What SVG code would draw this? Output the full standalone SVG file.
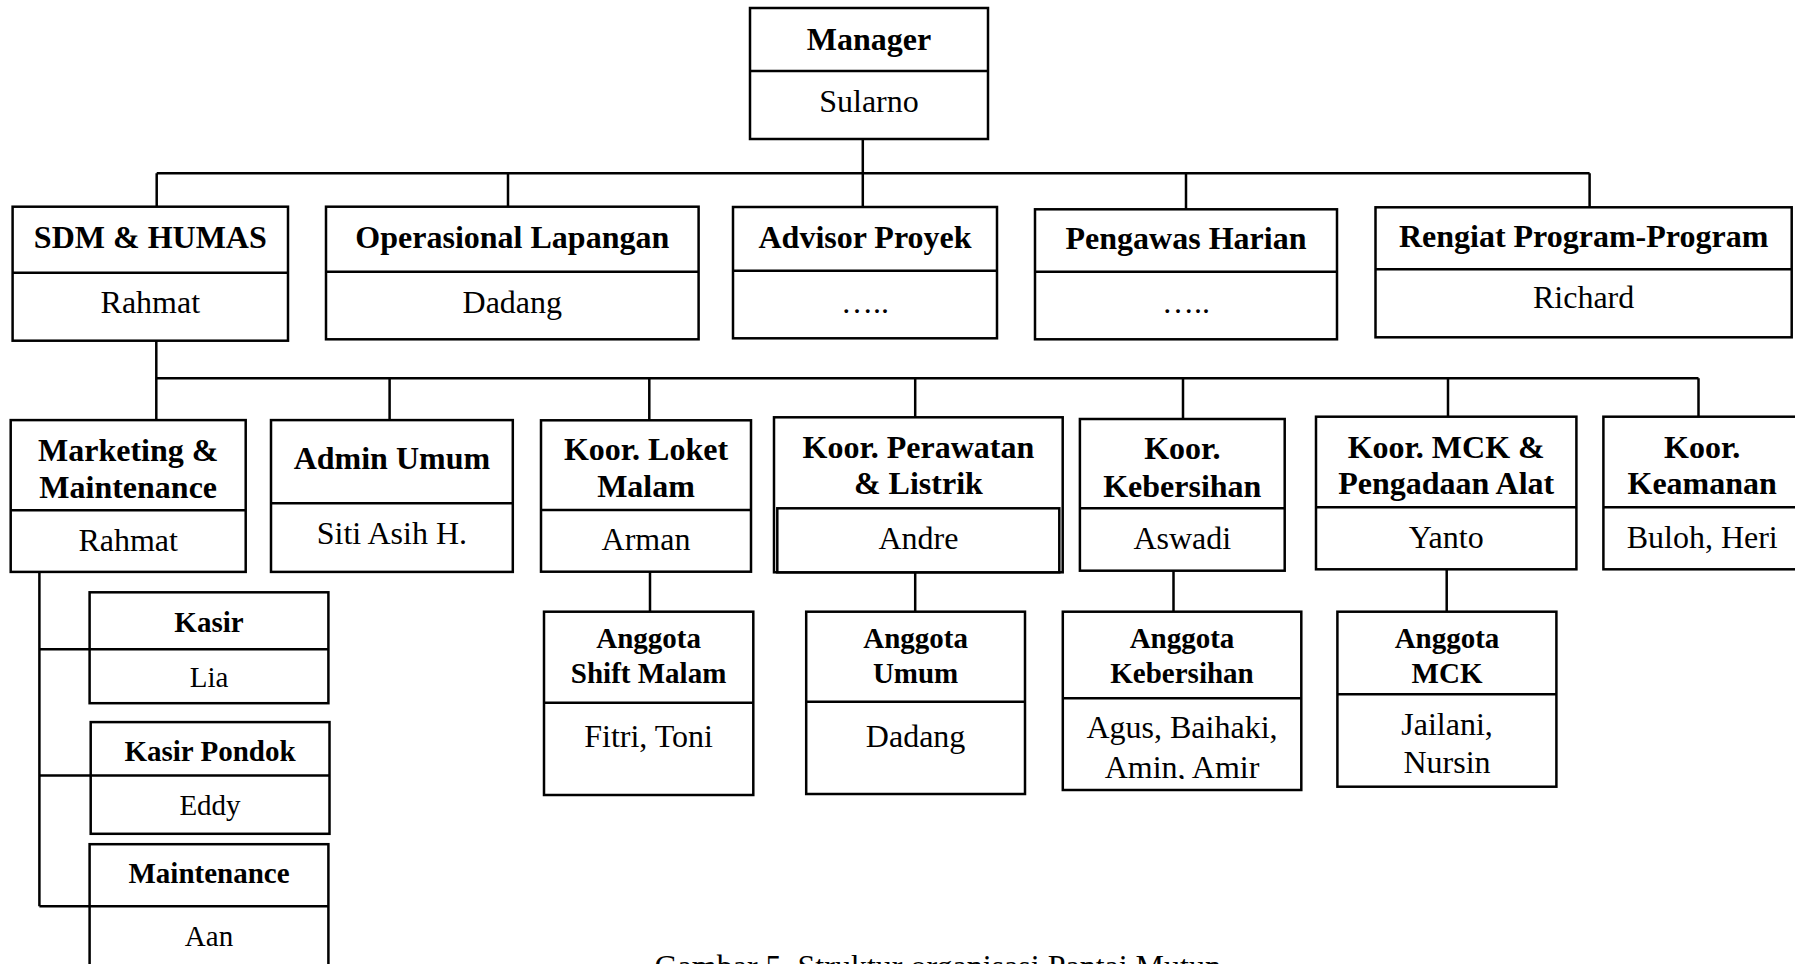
<svg xmlns="http://www.w3.org/2000/svg" width="1795" height="964" viewBox="0 0 1795 964">
<style>
.box{fill:#fff;stroke:#000;stroke-width:2.5}
.ln{fill:none;stroke:#000;stroke-width:2.5}
.t{font-family:"Liberation Serif","Times New Roman",serif;font-size:32px;font-weight:bold;text-anchor:middle;fill:#000}
.n{font-family:"Liberation Serif","Times New Roman",serif;font-size:32px;text-anchor:middle;fill:#000}
.ts{font-family:"Liberation Serif","Times New Roman",serif;font-size:29px;font-weight:bold;text-anchor:middle;fill:#000}
.ns{font-family:"Liberation Serif","Times New Roman",serif;font-size:29px;text-anchor:middle;fill:#000}
</style>
<defs>
<clipPath id="clipAK"><rect x="1063" y="699" width="238" height="80"/></clipPath>
</defs>
<rect width="1795" height="964" fill="#fff"/>
<g id="connectors">
<path class="ln" d="M862.8 139V207M156.7 173.3H1589.6M156.7 173.3V206.7M508 173.3V206.7M1186 173.3V209.3M1589.6 173.3V207.3"/>
<path class="ln" d="M156.3 340.7V420M156.3 378.3H1698.5M389.6 378.3V420M649.3 378.3V420.3M915.2 378.3V417.3M1183 378.3V419M1448 378.3V416.7M1698.5 378.3V416.7"/>
<path class="ln" d="M650 571.7V611.7M915.2 572.3V611.7M1173.5 570.7V611.7M1446.7 569.3V611.7"/>
<path class="ln" d="M39.4 571.9V906.2M39.4 649.3H90M39.4 775.6H91M39.4 906.2H90"/>
</g>
<g id="manager">
<rect class="box" x="750" y="8" width="238" height="131"/>
<path class="ln" d="M750 71H988"/>
<text class="t" x="869" y="50">Manager</text>
<text class="n" x="869" y="111.7">Sularno</text>
</g>
<g id="sdm-humas">
<rect class="box" x="12.6" y="206.7" width="275.4" height="134"/>
<path class="ln" d="M12.6 272.7H288"/>
<text class="t" x="150.3" y="248.3">SDM &amp; HUMAS</text>
<text class="n" x="150.3" y="313.3">Rahmat</text>
</g>
<g id="operasional-lapangan">
<rect class="box" x="326" y="206.7" width="372.6" height="132.6"/>
<path class="ln" d="M326 271.7H698.6"/>
<text class="t" x="512.3" y="248.3">Operasional Lapangan</text>
<text class="n" x="512.3" y="313.3">Dadang</text>
</g>
<g id="advisor-proyek">
<rect class="box" x="733" y="207" width="264" height="131.3"/>
<path class="ln" d="M733 270.7H997"/>
<text class="t" x="865" y="248.3">Advisor Proyek</text>
<text class="n" x="865" y="313">…..</text>
</g>
<g id="pengawas-harian">
<rect class="box" x="1035" y="209.3" width="302" height="130"/>
<path class="ln" d="M1035 271.7H1337"/>
<text class="t" x="1186" y="249.3">Pengawas Harian</text>
<text class="n" x="1186" y="313.3">…..</text>
</g>
<g id="rengiat-program">
<rect class="box" x="1375.5" y="207.3" width="416.2" height="130"/>
<path class="ln" d="M1375.5 269.3H1791.7"/>
<text class="t" x="1583.6" y="247.3">Rengiat Program-Program</text>
<text class="n" x="1583.6" y="308.3">Richard</text>
</g>
<g id="marketing-maintenance">
<rect class="box" x="10.7" y="420.1" width="235" height="151.8"/>
<path class="ln" d="M10.7 510.2H245.7"/>
<text class="t" x="128.2" y="461">Marketing &amp;</text>
<text class="t" x="128.2" y="497.5">Maintenance</text>
<text class="n" x="128.2" y="550.7">Rahmat</text>
</g>
<g id="admin-umum">
<rect class="box" x="271" y="420.1" width="241.8" height="151.8"/>
<path class="ln" d="M271 503.3H512.8"/>
<text class="t" x="391.9" y="469">Admin Umum</text>
<text class="n" x="391.9" y="543.7">Siti Asih H.</text>
</g>
<g id="koor-loket-malam">
<rect class="box" x="541" y="420.3" width="210" height="151.4"/>
<path class="ln" d="M541 510H751"/>
<text class="t" x="646" y="460">Koor. Loket</text>
<text class="t" x="646" y="496.7">Malam</text>
<text class="n" x="646" y="550">Arman</text>
</g>
<g id="koor-perawatan-listrik">
<rect class="box" x="774" y="417.3" width="288.7" height="155"/>
<rect class="box" x="777.3" y="508.3" width="282" height="64"/>
<text class="t" x="918.4" y="458.3">Koor. Perawatan</text>
<text class="t" x="918.4" y="494.3">&amp; Listrik</text>
<text class="n" x="918.4" y="549.3">Andre</text>
</g>
<g id="koor-kebersihan">
<rect class="box" x="1079.9" y="419" width="204.8" height="151.7"/>
<path class="ln" d="M1079.9 508.3H1284.7"/>
<text class="t" x="1182.3" y="459.3">Koor.</text>
<text class="t" x="1182.3" y="496.7">Kebersihan</text>
<text class="n" x="1182.3" y="549.3">Aswadi</text>
</g>
<g id="koor-mck">
<rect class="box" x="1316" y="416.7" width="260.4" height="152.6"/>
<path class="ln" d="M1316 507.3H1576.4"/>
<text class="t" x="1446.2" y="457.7">Koor. MCK &amp;</text>
<text class="t" x="1446.2" y="494.3">Pengadaan Alat</text>
<text class="n" x="1446.2" y="548.3">Yanto</text>
</g>
<g id="koor-keamanan">
<rect class="box" x="1603.4" y="416.7" width="200" height="152.6"/>
<path class="ln" d="M1603.4 507.3H1803.4"/>
<text class="t" x="1702.2" y="457.7">Koor.</text>
<text class="t" x="1702.2" y="494.3">Keamanan</text>
<text class="n" x="1702.2" y="548.3">Buloh, Heri</text>
</g>
<g id="anggota-shift-malam">
<rect class="box" x="544" y="611.7" width="209.3" height="183.3"/>
<path class="ln" d="M544 702.7H753.3"/>
<text class="ts" x="648.6" y="648.3">Anggota</text>
<text class="ts" x="648.6" y="682.7">Shift Malam</text>
<text class="n" x="648.6" y="746.7">Fitri, Toni</text>
</g>
<g id="anggota-umum">
<rect class="box" x="806.2" y="611.7" width="218.8" height="182.3"/>
<path class="ln" d="M806.2 701.7H1025"/>
<text class="ts" x="915.6" y="648.3">Anggota</text>
<text class="ts" x="915.6" y="682.7">Umum</text>
<text class="n" x="915.6" y="746.7">Dadang</text>
</g>
<g id="anggota-kebersihan">
<rect class="box" x="1062.8" y="611.7" width="238.5" height="178.3"/>
<path class="ln" d="M1062.8 698.3H1301.3"/>
<text class="ts" x="1182" y="648.3">Anggota</text>
<text class="ts" x="1182" y="682.7">Kebersihan</text>
<g clip-path="url(#clipAK)">
<text class="n" x="1182" y="738.3">Agus, Baihaki,</text>
<text class="n" x="1182" y="778">Amin, Amir</text>
</g>
</g>
<g id="anggota-mck">
<rect class="box" x="1337.4" y="611.7" width="219" height="175"/>
<path class="ln" d="M1337.4 694.3H1556.4"/>
<text class="ts" x="1447" y="648.3">Anggota</text>
<text class="ts" x="1447" y="682.7">MCK</text>
<text class="n" x="1447" y="735">Jailani,</text>
<text class="n" x="1447" y="773.3">Nursin</text>
</g>
<g id="kasir">
<rect class="box" x="89.6" y="592.3" width="238.8" height="110.9"/>
<path class="ln" d="M89.6 649.3H328.4"/>
<text class="ts" x="209" y="631.6">Kasir</text>
<text class="ns" x="209" y="687.4">Lia</text>
</g>
<g id="kasir-pondok">
<rect class="box" x="90.7" y="722.1" width="238.8" height="111.7"/>
<path class="ln" d="M90.7 775.6H329.5"/>
<text class="ts" x="210" y="760.6">Kasir Pondok</text>
<text class="ns" x="210" y="814.5">Eddy</text>
</g>
<g id="maintenance">
<rect class="box" x="89.6" y="844.2" width="238.8" height="135"/>
<path class="ln" d="M89.6 906.2H328.4"/>
<text class="ts" x="209" y="883.1">Maintenance</text>
<text class="ns" x="209" y="945.5">Aan</text>
</g>
<text class="n" x="654.5" y="977" style="text-anchor:start">Gambar 5. Struktur organisasi Pantai Mutun</text>
</svg>
